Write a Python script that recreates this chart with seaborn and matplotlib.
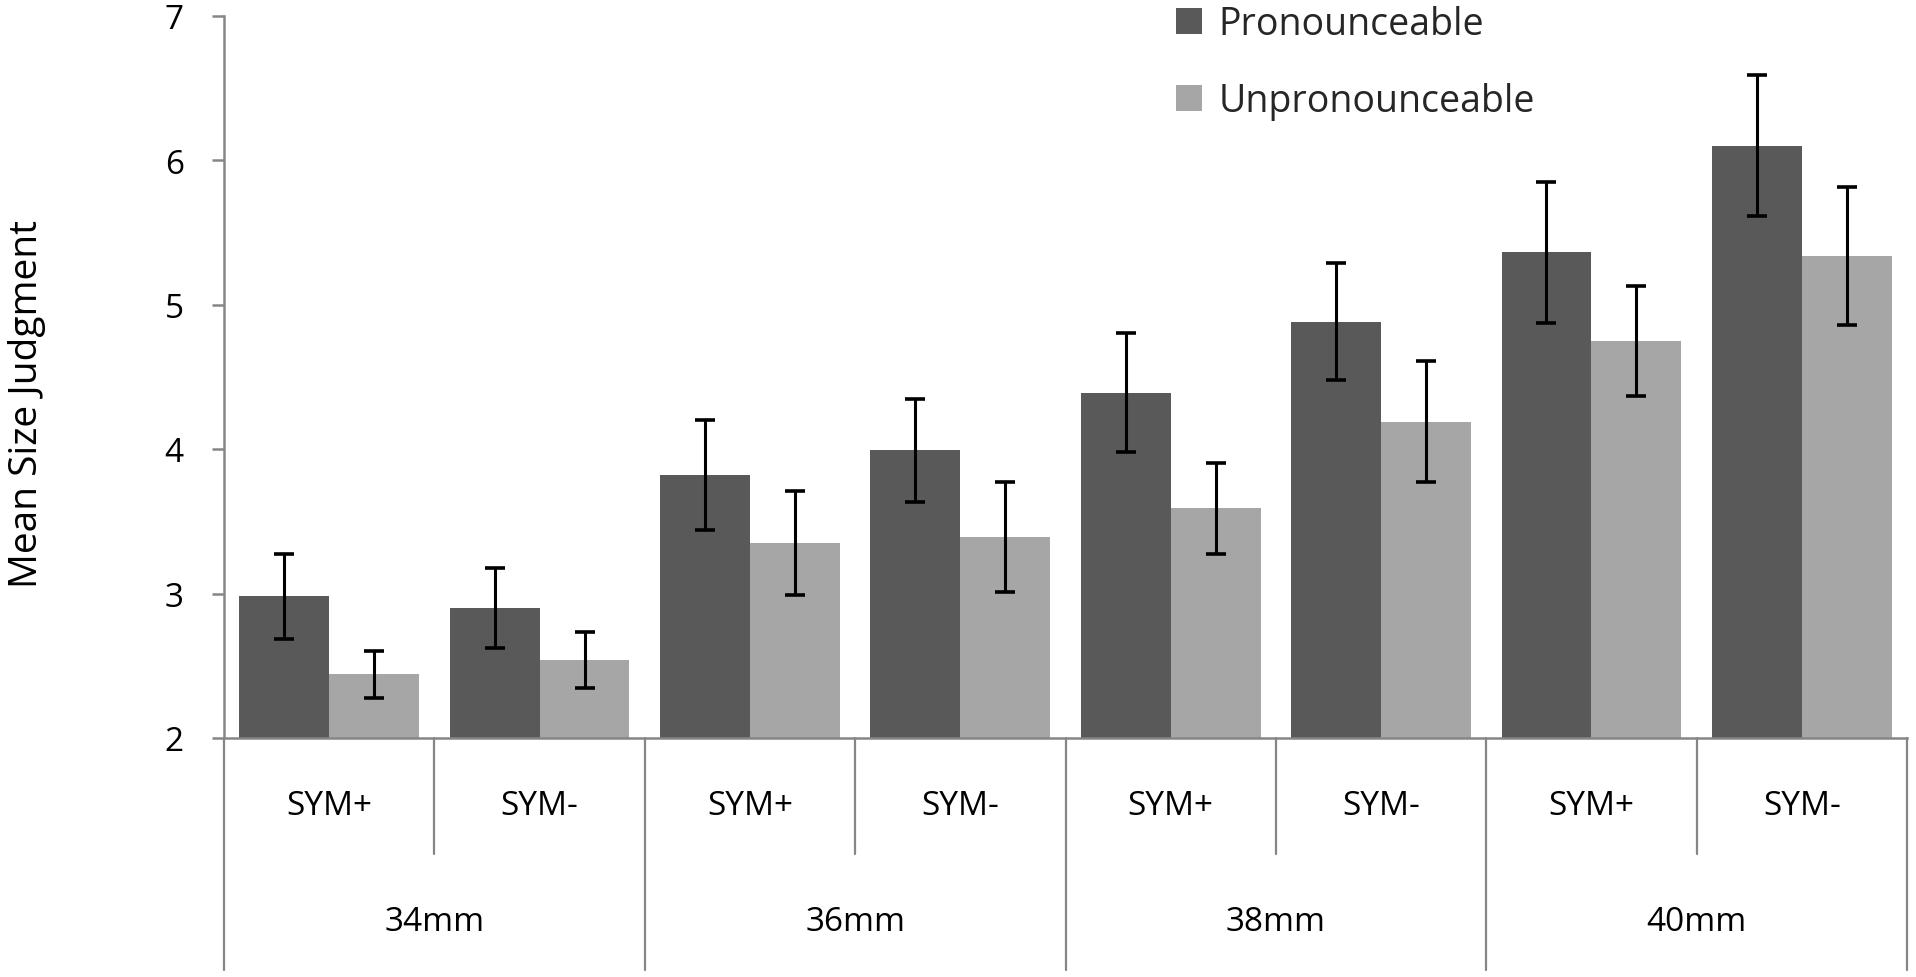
import numpy as np
import pandas as pd
import matplotlib
matplotlib.use("Agg")
import matplotlib.pyplot as plt
from matplotlib import transforms
import seaborn as sns

# ---- data ----
sizes = ["34mm", "36mm", "38mm", "40mm"]
sym_labels = ["SYM+", "SYM-"]
series = ["Pronounceable", "Unpronounceable"]

pron_mean = [2.98, 2.90, 3.82, 3.99, 4.39, 4.88, 5.36, 6.10]
pron_err = [0.295, 0.275, 0.38, 0.355, 0.41, 0.405, 0.49, 0.485]
unpron_mean = [2.44, 2.54, 3.35, 3.39, 3.59, 4.19, 4.75, 5.335]
unpron_err = [0.16, 0.195, 0.36, 0.38, 0.315, 0.42, 0.38, 0.475]

conds = [f"{s} {m}" for s in sizes for m in sym_labels]
df = pd.DataFrame({
    "cond": conds * 2,
    "type": [series[0]] * len(conds) + [series[1]] * len(conds),
    "mean": pron_mean + unpron_mean,
})

sns.set_theme(style="white")
plt.rcParams["font.family"] = ["Open Sans", "DejaVu Sans"]

W, H = 1916, 978
fig = plt.figure(figsize=(W / 100, H / 100), dpi=100)
ax = fig.add_axes([224 / W, 1 - 739 / H, (1907 - 224) / W, (739 - 16.5) / H])

sns.barplot(data=df, x="cond", y="mean", hue="type", order=conds,
            hue_order=series, palette=["#595959", "#a6a6a6"],
            width=0.855, gap=0, errorbar=None, saturation=1,
            linewidth=0, ax=ax)

for cont, errs in zip(ax.containers, [pron_err, unpron_err]):
    xs = [b.get_x() + b.get_width() / 2 for b in cont]
    ys = [b.get_height() for b in cont]
    ax.errorbar(xs, ys, yerr=errs, fmt="none", ecolor="black",
                elinewidth=2.2, capsize=7.5, capthick=2.6, zorder=5)

ax.set_xlim(-0.5, len(conds) - 0.5)
ax.set_ylim(2, 7)
ax.set_yticks(range(2, 8))
ax.set_xlabel("")
ax.set_ylabel("")
ax.tick_params(axis="x", bottom=False, labelbottom=False)
ax.tick_params(axis="y", left=True, direction="out", length=9, width=1.8,
               color="#868686", pad=20, labelsize=24, labelcolor="black")
for side in ["top", "right"]:
    ax.spines[side].set_visible(False)
for side in ["left", "bottom"]:
    ax.spines[side].set_color("#868686")
    ax.spines[side].set_linewidth(1.8)

fig.text(27 / W, 1 - 404 / H, "Mean Size Judgment", rotation=90,
         ha="center", va="center", fontsize=28, color="black")

# category table below the axis
trans = transforms.blended_transform_factory(ax.transData, ax.transAxes)
ax_h = 739 - 16.5
y_sym = -(806.7 - 739) / ax_h
y_mm = -(922.7 - 739) / ax_h
y_short = -(855 - 739) / ax_h
y_long = -(971 - 739) / ax_h
for i, c in enumerate(conds):
    ax.text(i, y_sym, c.split(" ")[1], transform=trans, ha="center",
            va="center", fontsize=24, color="black")
for g, s in enumerate(sizes):
    ax.text(2 * g + 0.5, y_mm, s, transform=trans, ha="center",
            va="center", fontsize=24, color="black")
for i in range(len(conds) + 1):
    yend = y_long if i % 2 == 0 else y_short
    ax.plot([i - 0.5, i - 0.5], [0, yend], transform=trans, clip_on=False,
            color="#868686", lw=1.6)

leg = ax.get_legend()
handles = leg.legend_handles
labels = [t.get_text() for t in leg.get_texts()]
leg.remove()
ax.legend(handles, labels, loc="upper left",
          bbox_to_anchor=(1176 / W, 1 - 6 / H), bbox_transform=fig.transFigure,
          frameon=False, fontsize=27, handlelength=0.68, handleheight=0.68,
          handletextpad=0.45, labelspacing=1.05, borderpad=0, borderaxespad=0)

fig.savefig("out.png", dpi=100, facecolor="white")
